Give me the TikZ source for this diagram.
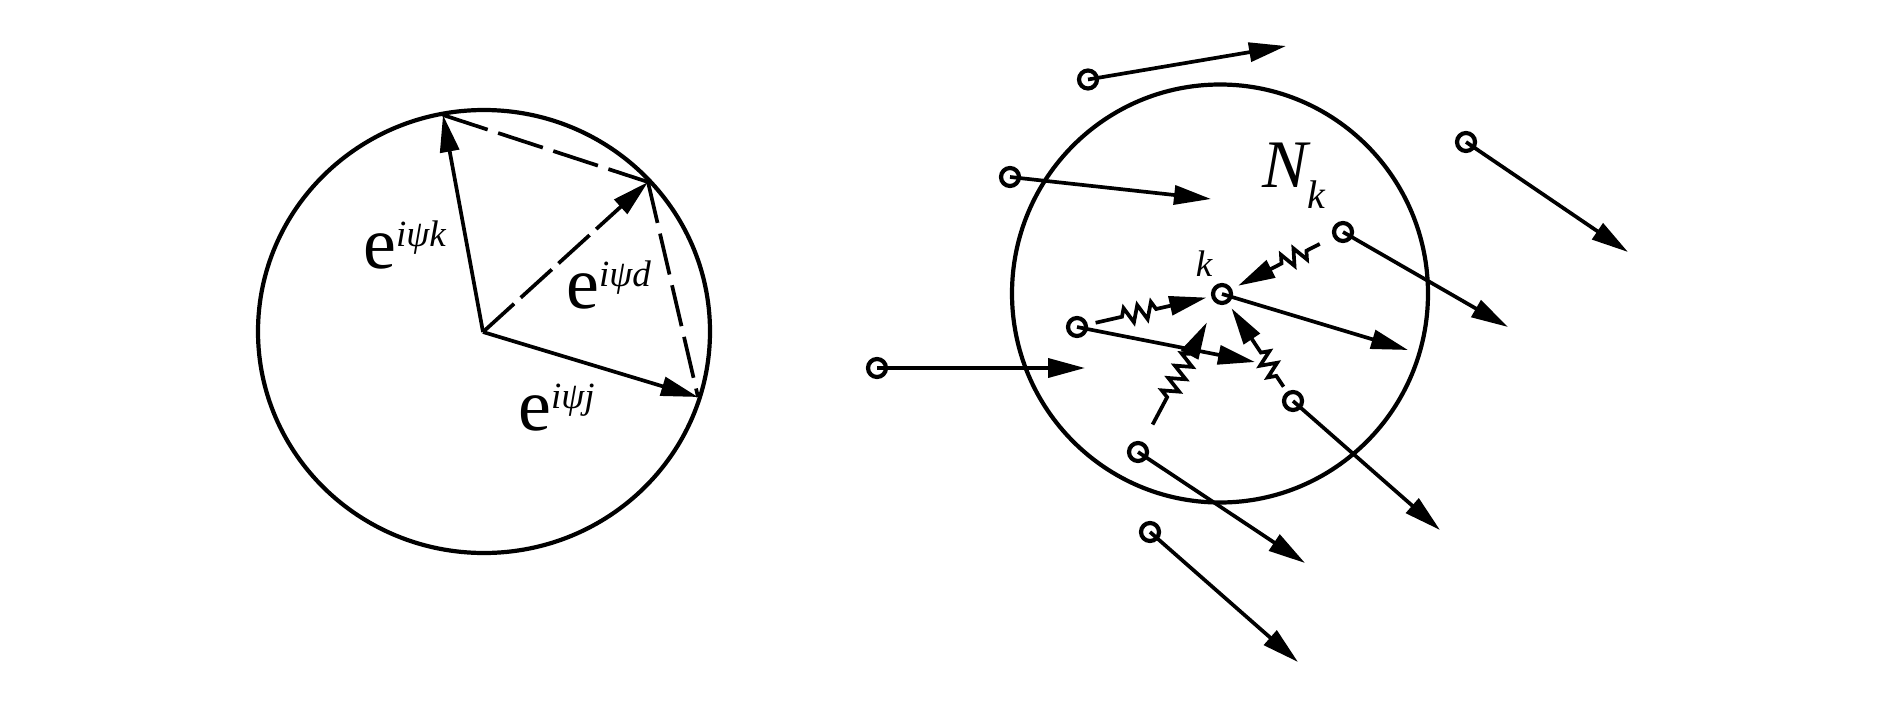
\documentclass[tikz,border=0pt]{standalone}
\usepackage{fontspec}
\setmainfont{Liberation Serif}
\usetikzlibrary{arrows.meta, decorations.pathmorphing, shapes.geometric}

\newcommand{\phaselabel}[1]{{\fontsize{74}{74}\selectfont e}\raisebox{22pt}{\fontsize{37}{37}\selectfont\itshape iψ#1}}

\tikzset{
	rim/.style={draw, ellipse, line width=4.2pt, inner sep=0pt},
	site/.style={draw, circle, line width=4.2pt, minimum size=18pt, inner sep=0pt},
	vec/.style={line width=3.7pt, -{Triangle[length=37pt, width=19pt]}},
	chord/.style={line width=3.7pt},
	spring/.style={line width=3.7pt, decorate, decoration={zigzag, segment length=14pt, amplitude=8pt, pre length=#1, post length=54pt}}
}

\begin{document}
\begin{tikzpicture}[x=1pt, y=-1pt]

\useasboundingbox (0,0) rectangle (1890,709);

% phasor circle
\node [rim, minimum width=452pt, minimum height=443pt] (unit) at (484,331.5) {};
\coordinate (origin) at (483,332);
\coordinate (tipk) at (443,115);
\coordinate (tipd) at (648,182);
\coordinate (tipj) at (698,397);

\draw [vec] (origin) -- (tipk);
\draw [vec] (origin) -- (tipj);
\draw [vec, dash pattern=on 42pt off 9pt] (origin) -- (tipd);
\draw [chord, dash pattern=on 47pt off 11pt] (tipk) -- (tipd);
\draw [chord, dash pattern=on 42pt off 11pt] (tipd) -- (tipj);

\node [anchor=base west, inner sep=0pt] (labelk) at (363,268) {\phaselabel{k}};
\node [anchor=base west, inner sep=0pt] (labeld) at (566,308) {\phaselabel{d}};
\node [anchor=base west, inner sep=0pt] (labelj) at (518,430) {\phaselabel{j}};

% neighbourhood
\node [rim, minimum width=416pt, minimum height=418pt] (hood) at (1220,293.5) {};
\node [anchor=base west, inner sep=0pt] (hoodlabel) at (1262,187) {\fontsize{68}{68}\selectfont\itshape N\raisebox{-21pt}{\fontsize{40}{40}\selectfont k}};

\node [site] (k) at (1222,294) {};
\node [site] (a) at (1088,79.5) {};
\node [site] (b) at (1010,177) {};
\node [site] (c) at (1466,142) {};
\node [site] (d) at (1343,232) {};
\node [site] (e) at (1077,327) {};
\node [site] (f) at (1293,401) {};
\node [site] (g) at (1138,452) {};
\node [site] (h) at (1150,532) {};
\node [site] (m) at (877,368) {};
\node (klabel) at (1204,264) {\fontsize{37}{37}\selectfont\itshape k};

\coordinate (tipa) at (1286,46);
\coordinate (tipb) at (1211,199);
\coordinate (tipc) at (1628,252);
\coordinate (tipd2) at (1508,327);
\coordinate (tipk2) at (1408,350);
\coordinate (tipe) at (1255,362);
\coordinate (tipf) at (1440,530);
\coordinate (tipg) at (1305,563);
\coordinate (tiph) at (1298,662);
\coordinate (tipm) at (1085,368);

\draw [vec] (a.center) -- (tipa);
\draw [vec] (b.center) -- (tipb);
\draw [vec] (c.center) -- (tipc);
\draw [vec] (d.center) -- (tipd2);
\draw [vec] (k.center) -- (tipk2);
\draw [vec] (e.center) -- (tipe);
\draw [vec] (f.center) -- (tipf);
\draw [vec] (g.center) -- (tipg);
\draw [vec] (h.center) -- (tiph);
\draw [vec] (m.center) -- (tipm);

% couplings
\draw [vec, shorten <=8pt, shorten >=5pt, spring=35pt] (e) -- (k);
\draw [vec, shorten <=15pt, shorten >=7pt, spring=30pt] (d) -- (k);
\draw [vec, shorten <=6pt, shorten >=6pt, spring=19pt] (f) -- (k);
\draw [vec, shorten <=20pt, shorten >=21pt, spring=51pt] (g) -- (k);

\end{tikzpicture}
\end{document}
